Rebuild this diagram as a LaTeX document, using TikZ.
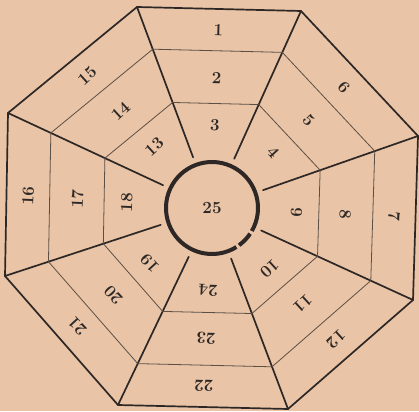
\documentclass[tikz,border=0pt]{standalone}
\usetikzlibrary{calc}
\definecolor{paper}{RGB}{233,196,166}
\definecolor{ink}{RGB}{45,40,38}
\tikzset{
  edge/.style={ink, line width=1.7pt, line cap=round},
  band/.style={ink!75!paper, line width=0.8pt},
  num/.style={font=\fontsize{17}{19}\selectfont\bfseries, text=ink, inner sep=0pt},
  ring/.style={ink, line width=4pt},
}
\begin{document}
\begin{tikzpicture}[x=1pt,y=1pt]
\fill[paper] (-212,-203) rectangle (207,208);
\useasboundingbox (-212,-203) rectangle (207,208);
\coordinate (c) at (0,0);
% corners of the octagon
\coordinate (v1) at (-75,201);
\coordinate (v2) at (89,197);
\coordinate (v3) at (206,72);
\coordinate (v4) at (201,-92);
\coordinate (v5) at (76,-201);
\coordinate (v6) at (-94,-197);
\coordinate (v7) at (-207,-68);
\coordinate (v8) at (-204,95);
% spokes
\foreach \v in {1,...,8}
  \draw[edge] ($(c)!54pt!(v\v)$) -- (v\v);
\draw[edge] (v1) -- (v2) -- (v3) -- (v4) -- (v5) -- (v6) -- (v7) -- (v8) -- cycle;
% bands and numbers
\foreach \a/\b/\rot/\lo/\lm/\li in {1/2/-2/1/2/3, 2/3/-47.5/6/5/4, 3/4/-92/7/8/9,
    4/5/-137.5/12/11/10, 5/6/178/22/23/24, 6/7/132.5/21/20/19,
    7/8/87.5/16/17/18, 8/1/42.5/15/14/13} {
  \coordinate (m) at ($(v\a)!0.5!(v\b)$);
  \draw[band] ($(c)!0.79!(v\a)$) -- ($(c)!0.79!(v\b)$);
  \draw[band] ($(c)!0.525!(v\a)$) -- ($(c)!0.525!(v\b)$);
  \node[num, rotate=\rot] (n\lo) at ($(c)!0.895!(m)$) {\lo};
  \node[num, rotate=\rot] (n\lm) at ($(c)!0.655!(m)$) {\lm};
  \node[num, rotate=\rot] (n\li) at ($(c)!0.415!(m)$) {\li};
}
% centre ring
\draw[ring] (-30:46) arc[start angle=-30, end angle=302, radius=46];
\draw[ring] (-54:46) arc[start angle=-54, end angle=-34, radius=46];
\node[num] (n25) at (c) {25};
\end{tikzpicture}
\end{document}
